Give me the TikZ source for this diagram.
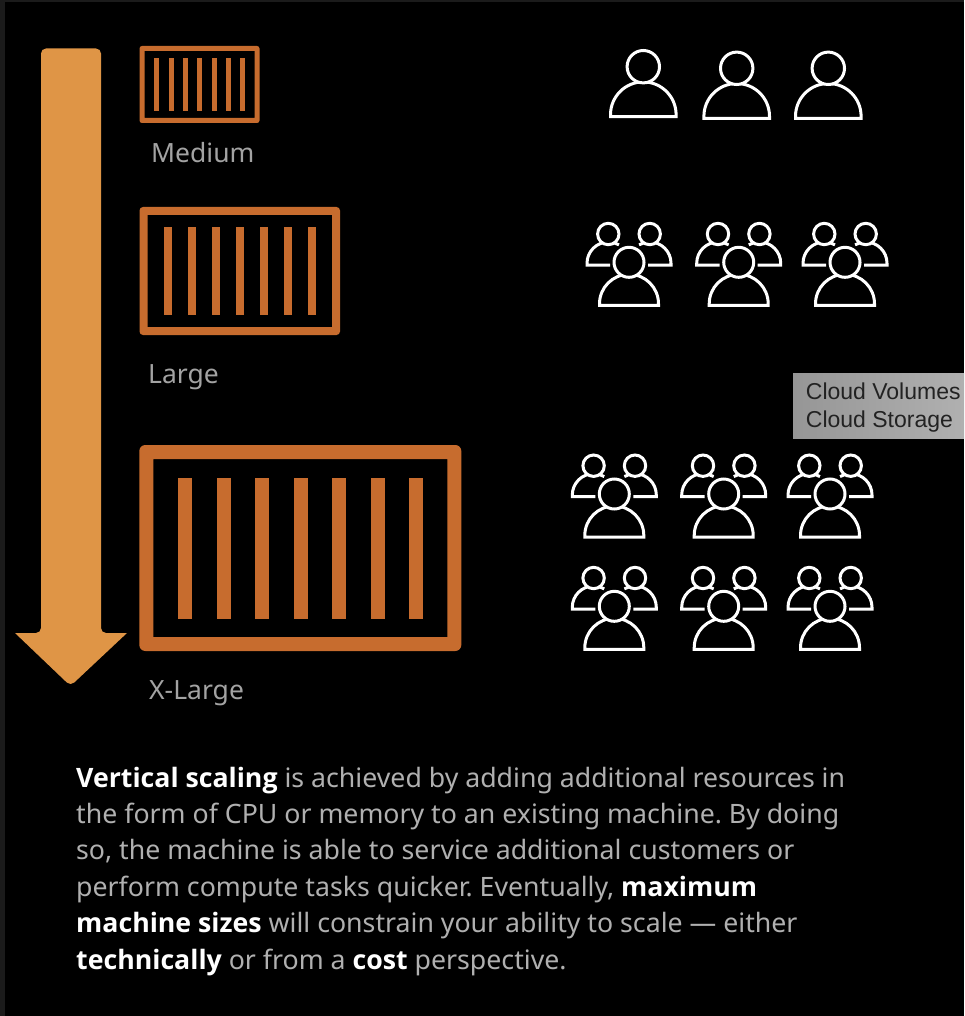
\documentclass[tikz,border=0pt]{standalone}
\usepackage{fontspec}
\setmainfont{Noto Sans}
\newfontfamily\tipfont{Liberation Sans}
\newfontfamily\strongfont{Open Sans}
\newcommand{\strongtext}[1]{{\strongfont\bfseries\color{white}#1}}
\usetikzlibrary{positioning}
\definecolor{cArrow}{HTML}{DF9546}
\definecolor{cBox}{HTML}{C76C2E}
\definecolor{cStrip}{HTML}{1B1B1B}
\definecolor{cLabel}{HTML}{A3A3A3}
\definecolor{cBody}{HTML}{B0B0B0}
\definecolor{cTipL}{HTML}{969696}
\definecolor{cTipR}{HTML}{B0B0B0}
\definecolor{cTipText}{HTML}{222222}
\tikzset{
    sizelabel/.style={anchor=base west,text=cLabel,font=\fontsize{26.5}{30}\selectfont,inner sep=0pt},
    tiplabel/.style={anchor=base west,inner sep=0pt,text=cTipText,font=\tipfont\fontsize{23}{28}\selectfont},
    personpic/.pic={
        \draw[white,line width=3pt] (-32.8,50) -- (-32.8,48)
            arc[start angle=180,end angle=360,radius=32.8] -- (32.8,50) -- cycle;
        \draw[white,fill=black,line width=3pt] (0,0) circle (16.2);
    },
    crowdpic/.pic={
        \draw[white,line width=3pt] (-19,2.7) -- (-42,2.7) -- (-42,1)
            arc[start angle=180,end angle=300,radius=21.3];
        \draw[white,line width=3pt] (19,2.7) -- (42,2.7) -- (42,1)
            arc[start angle=0,end angle=-120,radius=21.3];
        \draw[white,fill=black,line width=3pt] (-20.7,-28.3) circle (10.7);
        \draw[white,fill=black,line width=3pt] (20.7,-28.3) circle (10.7);
        \draw[white,line width=3pt] (-29.5,43) -- (-29.5,41.5)
            arc[start angle=180,end angle=360,radius=29.5] -- (29.5,43) -- cycle;
        \draw[white,fill=black,line width=3pt] (0,0) circle (15);
    }
}
\begin{document}
\begin{tikzpicture}[x=1pt,y=-1pt]

\useasboundingbox (0,0) rectangle (964,1016);
\fill[cStrip] (0,0) rectangle (964,1016);
\fill[black] (5,2) rectangle (964,1016);

% arrow
\fill[cArrow,rounded corners=5pt] (41,48.5) -- (101,48.5) -- (101,633)
    [sharp corners] -- (127,633) [rounded corners=5pt] -- (70.5,686)
    [sharp corners] -- (15,633) [rounded corners=5pt] -- (41,633) -- cycle;

% containers
\foreach \xa/\ya/\xb/\yb/\bw/\bx/\bs/\bt/\bb/\rc in
{139.5/46/259.5/123/5/156.7/14.33/58/111/2.5,
    139.5/207/340/335/8/167.7/24/227.3/315.3/3.5,
    139.3/445/461.3/651/14/185/38.58/477.7/619/6
}
{
    \fill[cBox,even odd rule,rounded corners=\rc pt] (\xa,\ya) rectangle (\xb,\yb)
        [sharp corners] (\xa+\bw,\ya+\bw) rectangle (\xb-\bw,\yb-\bw);
    \foreach \i in {0,...,6}
    {
        \fill[cBox] (\bx+\i*\bs-\bw/2,\bt) rectangle (\bx+\i*\bs+\bw/2,\bb);
    };
};

\node[sizelabel] (nMedium) at (151,163) {Medium};
\node[sizelabel] (nLarge) at (148,383) {Large};
\node[sizelabel] (nXLarge) at (149,699) {X-Large};

% users
\pic at (643.3,66.7) {personpic};
\pic at (736.7,68.3) {personpic};
\pic at (828.3,68.3) {personpic};

\foreach \x/\y in {629/262.3, 738.7/262.3, 845/262.3,
    614.3/494, 723.7/494, 830/494,
    614.3/606.3, 723.7/606.3, 830/606.3}
{
    \pic at (\x,\y) {crowdpic};
};

% tooltip
\shade[left color=cTipL,right color=cTipR] (793,373.3) rectangle (964,438.7);
\node[tiplabel] (nTipA) at (805.7,399) {Cloud Volumes};
\node[tiplabel] (nTipB) at (805.7,427) {Cloud Storage};

% caption
\node[anchor=north west,inner sep=0pt,align=left,text=cBody,font=\fontsize{26.7}{36.4}\selectfont\frenchspacing] (nCaption) at (76,766.5) {%
\strongtext{Vertical scaling} is achieved by adding additional resources in\\
the form of CPU or memory to an existing machine. By doing\\
so, the machine is able to service additional customers or\\
perform compute tasks quicker. Eventually, \strongtext{maximum}\\
\strongtext{machine sizes} will constrain your ability to scale — either\\
\strongtext{technically} or from a \strongtext{cost} perspective.};

\end{tikzpicture}
\end{document}
